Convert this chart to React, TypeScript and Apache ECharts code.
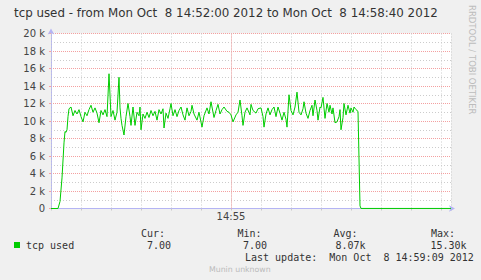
import React, { useEffect, useRef } from "react";
import * as echarts from "echarts";

// seconds after 14:52:00
const times = [
  0, 7, 9, 11, 13, 14, 15, 16, 17, 18, 20, 22, 24, 26, 28, 30, 32, 34, 36, 38,
  40, 42, 44, 46, 48, 50, 52, 54, 56, 58, 60, 62, 64, 66, 68, 69, 70, 71, 73, 75,
  77, 79, 80, 82, 84, 86, 88, 89, 90, 92, 94, 96, 98, 100, 102, 104, 106, 108, 110, 112,
  113, 115, 117, 119, 120, 122, 124, 126, 128, 130, 132, 134, 136, 138, 140, 141, 143, 146, 148, 151,
  153, 156, 158, 160, 163, 165, 167, 169, 171, 173, 176, 178, 180, 182, 185, 187, 189, 191, 192, 194,
  196, 199, 200, 202, 205, 207, 210, 212, 213, 215, 217, 219, 221, 223, 225, 227, 229, 231, 233, 235,
  236, 238, 240, 242, 244, 246, 248, 250, 252, 253, 255, 257, 259, 261, 262, 264, 266, 267, 269, 270,
  272, 274, 276, 278, 279, 281, 282, 284, 286, 288, 289, 290, 292, 293, 295, 297, 299, 300, 302, 303,
  305, 307, 309, 310, 400,
];
// tcp used, in thousands
const values = [
  0, 0, 0.8, 3.5, 7.5, 8.8, 8.7, 9.0, 10.5, 11.4, 11.6, 10.6, 11.2, 10.8, 11.3, 10.5, 9.9, 11.0, 10.6, 11.3,
  11.8, 11.0, 11.5, 10.9, 9.8, 11.2, 10.7, 11.3, 10.5, 15.4, 10.5, 11.2, 10.1, 11.0, 15.0, 11.5, 10.3, 9.5, 8.4, 10.5,
  12.0, 10.5, 9.5, 11.6, 9.5, 11.0, 10.6, 11.6, 9.0, 10.8, 10.3, 11.0, 10.4, 11.2, 10.6, 11.1, 10.1, 11.3, 10.8, 11.4,
  9.2, 10.9, 10.3, 11.4, 12.0, 10.6, 11.3, 10.5, 11.2, 11.6, 10.7, 10.1, 11.5, 10.6, 11.1, 11.8, 10.8, 10.1, 11.0, 9.3,
  10.6, 11.5, 10.8, 12.2, 10.4, 11.2, 11.9, 10.8, 11.3, 11.6, 11.1, 11.0, 10.7, 9.9, 10.7, 11.0, 12.4, 10.6, 9.5, 11.0,
  11.5, 10.7, 11.9, 11.2, 10.9, 11.4, 11.5, 10.5, 9.3, 10.8, 11.5, 10.7, 11.3, 11.6, 10.5, 11.6, 10.9, 10.1, 11.0, 10.2,
  9.3, 13.0, 11.2, 10.7, 11.6, 13.3, 11.0, 10.7, 11.4, 12.2, 10.9, 10.3, 11.2, 11.8, 10.6, 12.4, 11.2, 10.1, 11.6, 11.5,
  12.7, 10.3, 12.0, 11.0, 11.8, 10.8, 11.5, 9.8, 9.9, 10.5, 11.3, 9.0, 10.4, 12.0, 10.7, 11.8, 10.9, 11.5, 11.0, 11.6,
  11.3, 11.1, 0.3, 0.007, 0.007,
];

const xLabels: Record<number, string> = { 180: "14:55" };
const majorInterval = 180;

const title = "tcp used - from Mon Oct  8 14:52:00 2012 to Mon Oct  8 14:58:40 2012";
const seriesName = "tcp used";
const statHeaders = ["Cur:", "Min:", "Avg:", "Max:"];
const statValues = ["7.00", "7.00", "8.07k", "15.30k"];
const lastUpdate = "Last update:  Mon Oct  8 14:59:09 2012";
const footer = "Munin unknown";
const sideText = "RRDTOOL / TOBI OETIKER";

export default function App() {
  const ref = useRef<HTMLDivElement>(null);
  useEffect(() => {
    if (!ref.current) return;
    const chart = echarts.init(ref.current, null, { renderer: "svg" });
    const mono = "DejaVu Sans Mono";
    const sans = "DejaVu Sans";
    const axisColor = "#b4b4f4";
    const majorColor = "#f4a0a0";
    const none = "rgba(255,255,255,0)";
    const headerX = [141, 237.5, 333.5, 431];
    const valueX = [147, 243, 335.5, 430.5];
    const graphic: any[] = [
      {
        type: "text", x: 14, y: 13,
        style: { text: title, font: `11.85px ${sans}`, fill: "#333", verticalAlign: "middle" },
      },
      {
        type: "text", x: 472, y: 5, rotation: -Math.PI / 2,
        style: { text: sideText, font: `8.5px ${sans}`, fill: "#bcbcbc", verticalAlign: "middle", align: "left" },
      },
      { type: "rect", shape: { x: 14, y: 242, width: 6, height: 6 }, style: { fill: "#00cc00" } },
      {
        type: "text", x: 26, y: 245,
        style: { text: seriesName, font: `10px ${mono}`, fill: "#333", verticalAlign: "middle" },
      },
      {
        type: "text", x: 245, y: 257,
        style: { text: lastUpdate, font: `10px ${mono}`, fill: "#333", verticalAlign: "middle" },
      },
      {
        type: "text", x: 209, y: 269,
        style: { text: footer, font: `7.8px ${sans}`, fill: "#bbbbbb", verticalAlign: "middle" },
      },
    ];
    statHeaders.forEach((h, i) =>
      graphic.push({
        type: "text", x: headerX[i], y: 233,
        style: { text: h, font: `10px ${mono}`, fill: "#333", verticalAlign: "middle" },
      })
    );
    statValues.forEach((v, i) =>
      graphic.push({
        type: "text", x: valueX[i], y: 245,
        style: { text: v, font: `10px ${mono}`, fill: "#333", verticalAlign: "middle" },
      })
    );

    chart.setOption({
      animation: false,
      backgroundColor: "#f0f0f0",
      grid: {
        left: 51, right: 30, top: 33.5, bottom: 71.5,
        show: true, backgroundColor: "#ffffff", borderWidth: 0,
      },
      xAxis: [
        {
          type: "value", min: 0, max: 400, interval: 30,
          axisLine: {
            show: true, lineStyle: { color: axisColor, width: 1 },
            symbol: ["none", "arrow"], symbolSize: [5, 6], symbolOffset: [0, 4],
          },
          axisTick: { show: true, length: 2, lineStyle: { color: "#c8c8c8" } },
          axisLabel: {
            formatter: (v: number) => xLabels[v] ?? "",
            color: "#444", fontSize: 10, fontFamily: sans, margin: 3,
          },
          splitLine: { show: true, lineStyle: { color: "#cccccc", type: [1, 2], width: 1 } },
          z: 1,
        },
        {
          type: "value", min: 0, max: 400, interval: majorInterval,
          position: "bottom",
          axisLine: { show: false },
          axisTick: { show: false },
          axisLabel: { show: false },
          splitLine: {
            show: true,
            lineStyle: { color: [none, majorColor, none, none], type: [1, 1], width: 1 },
          },
          z: 2,
        },
      ],
      yAxis: {
        type: "value", min: 0, max: 20, interval: 2,
        axisLine: {
          show: true, lineStyle: { color: axisColor, width: 1 },
          symbol: ["none", "arrow"], symbolSize: [5, 6], symbolOffset: [0, 5],
        },
        axisTick: { show: true, length: 2, lineStyle: { color: "#ff9f9f" } },
        axisLabel: {
          formatter: (v: number) => (v === 0 ? "0" : `${v} k`),
          color: "#444", fontSize: 10, fontFamily: sans, margin: 6,
        },
        splitLine: { show: true, lineStyle: { color: majorColor, type: [1, 1], width: 1 } },
        minorTick: { show: false, splitNumber: 2 },
        minorSplitLine: { show: true, lineStyle: { color: "#cccccc", type: [1, 2], width: 1 } },
      },
      series: [
        {
          type: "line",
          name: seriesName,
          xAxisIndex: 0,
          data: times.map((t, i) => [t, values[i]]),
          showSymbol: false,
          symbol: "none",
          lineStyle: { color: "#00cc00", width: 1 },
          itemStyle: { color: "#00cc00" },
          z: 3,
        },
      ],
      graphic,
    });
    return () => chart.dispose();
  }, []);
  return (
    <div
      ref={ref}
      style={{ position: "fixed", left: 0, top: 0, width: 481, height: 280 }}
    />
  );
}
